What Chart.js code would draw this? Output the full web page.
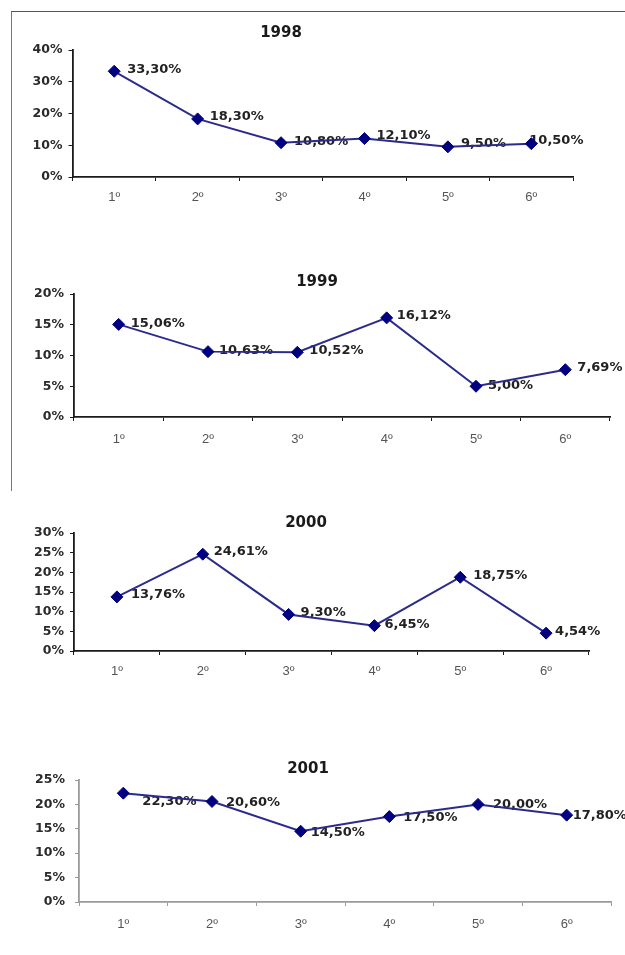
<!DOCTYPE html>
<html>
<head>
<meta charset="utf-8">
<script src="https://cdn.jsdelivr.net/npm/chart.js@4/dist/chart.umd.min.js"></script>
<style>
  html, body { margin:0; padding:0; background:#fff; width:625px; height:955px; overflow:hidden; }
  body { position:relative; }
  canvas { position:absolute; left:0; }
  #frame { position:absolute; left:11px; top:11px; width:614px; height:479px;
           border-top:1.5px solid #555; border-left:1.5px solid #777; }
</style>
</head>
<body>
<div id="frame"></div>
<canvas id="c0"></canvas>
<canvas id="c1"></canvas>
<canvas id="c2"></canvas>
<canvas id="c3"></canvas>
<script>
// ---- data ----
const categories = ['1º', '2º', '3º', '4º', '5º', '6º'];
const years = ['1998', '1999', '2000', '2001'];
const values1998 = [33.30, 18.30, 10.80, 12.10, 9.50, 10.50];
const values1999 = [15.06, 10.63, 10.52, 16.12, 5.00, 7.69];
const values2000 = [13.76, 24.61, 9.30, 6.45, 18.75, 4.54];
const values2001 = [22.30, 20.60, 14.50, 17.50, 20.00, 17.80];
const yMaxes = [40, 20, 30, 25];
const ySteps = [10, 5, 5, 5];
const seriesList = [values1998, values1999, values2000, values2001];

// ---- layout / style (not data) ----
const layouts = [
  { top: 20,  height: 192, left: 72.5, right: 573, padTop: 30, titleX: 281, titleY: 13, xPad: 9,  yPad: 6,  axis: '#1a1a1a', axisDash: [],
    dx: [13, 12, 13, 12, 13, -2], dy: [-2, -2, -1, -3, -3, -3] },
  { top: 264, height: 188, left: 74,   right: 610, padTop: 30, titleX: 317, titleY: 18, xPad: 11, yPad: 6,  axis: '#1a1a1a', axisDash: [],
    dx: [12, 11, 12, 10, 12, 12], dy: [-1, -1, -2, -2, -1, -2] },
  { top: 503, height: 183, left: 74,   right: 589, padTop: 30, titleX: 306, titleY: 20, xPad: 9,  yPad: 6,  axis: '#1a1a1a', axisDash: [],
    dx: [14, 11, 12, 10, 13, 9], dy: [-2, -3, -2, -1, -2, -2] },
  { top: 750, height: 187, left: 79,   right: 611, padTop: 30, titleX: 308, titleY: 19, xPad: 11, yPad: 10, axis: '#9a9a9a', axisDash: [2, 2],
    dx: [19, 14, 10, 14, 15, 6], dy: [8, 1, 1, 1, 0, 0] }
];

const fmt = v => v.toFixed(2).replace('.', ',') + '%';

const yearTitle = {
  id: 'yearTitle',
  afterDraw(chart, args, opts) {
    const ctx = chart.ctx;
    ctx.save();
    ctx.font = 'bold 15px "DejaVu Sans"';
    ctx.fillStyle = '#1a1a1a';
    ctx.textAlign = 'center';
    ctx.textBaseline = 'middle';
    ctx.fillText(opts.text, opts.x, opts.y);
    ctx.restore();
  }
};

const valueLabels = {
  id: 'valueLabels',
  beforeDatasetsDraw(chart, args, opts) {
    const ctx = chart.ctx;
    const meta = chart.getDatasetMeta(0);
    const vals = chart.data.datasets[0].data;
    ctx.save();
    ctx.font = 'bold 13px "DejaVu Sans"';
    ctx.fillStyle = '#222';
    ctx.textAlign = 'left';
    ctx.textBaseline = 'middle';
    meta.data.forEach((pt, i) => {
      ctx.fillText(fmt(vals[i]), pt.x + opts.dx[i], pt.y + opts.dy[i]);
    });
    ctx.restore();
  }
};

layouts.forEach((L, k) => {
  const cv = document.getElementById('c' + k);
  cv.width = 625;
  cv.height = L.height;
  cv.style.top = L.top + 'px';
  cv.style.width = '625px';
  cv.style.height = L.height + 'px';

  new Chart(cv, {
    type: 'line',
    data: {
      labels: categories,
      datasets: [{
        data: seriesList[k],
        borderColor: '#2b2b8c',
        borderWidth: 2,
        tension: 0,
        fill: false,
        pointStyle: 'rectRot',
        pointRadius: 6,
        pointBackgroundColor: '#000080',
        pointBorderColor: '#000080',
        pointBorderWidth: 1,
        clip: false
      }]
    },
    options: {
      responsive: false,
      animation: false,
      devicePixelRatio: 1,
      layout: { padding: { left: 0, right: 625 - L.right, top: L.padTop, bottom: 0 } },
      plugins: {
        legend: { display: false },
        tooltip: { enabled: false },
        title: { display: false },
        yearTitle: { text: years[k], x: L.titleX, y: L.titleY },
        valueLabels: { dx: L.dx, dy: L.dy }
      },
      scales: {
        x: {
          type: 'category',
          offset: true,
          afterFit: s => { s.height = 35; },
          grid: { offset: true, drawOnChartArea: false, drawTicks: true, tickLength: 4, color: L.axis, lineWidth: 1 },
          border: { display: true, color: L.axis, width: 1.8, dash: L.axisDash },
          ticks: { color: '#555', font: { family: 'Liberation Sans', size: 13 }, padding: L.xPad, maxRotation: 0 }
        },
        y: {
          min: 0,
          max: yMaxes[k],
          afterFit: s => { s.width = L.left; },
          grid: { drawOnChartArea: false, drawTicks: true, tickLength: 4, color: L.axis, lineWidth: 1 },
          border: { display: true, color: L.axis, width: 1.8 },
          ticks: {
            stepSize: ySteps[k],
            color: '#2a2a2a',
            padding: L.yPad,
            font: { family: 'DejaVu Sans', weight: 'bold', size: 12.5 },
            callback: v => v + '%'
          }
        }
      }
    },
    plugins: [yearTitle, valueLabels]
  });
});
</script>
</body>
</html>
